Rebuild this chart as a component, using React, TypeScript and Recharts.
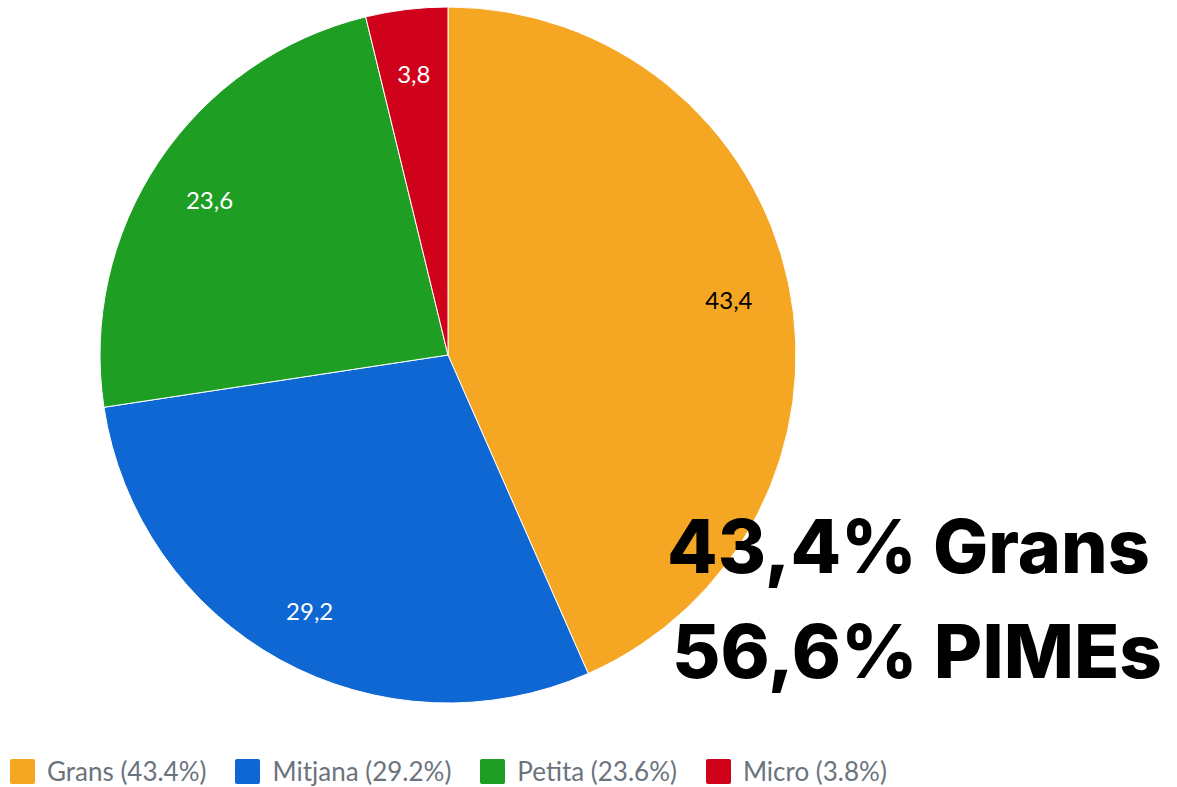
import * as React from 'react';
import { PieChart, Pie, Cell, Legend } from 'recharts';

const categories = ['Grans', 'Mitjana', 'Petita', 'Micro'];
const shares = [43.4, 29.2, 23.6, 3.8];
const colors = ['#F5A623', '#0E67D2', '#1E9E22', '#D0021B'];
const labelColors = ['#000000', '#ffffff', '#ffffff', '#ffffff'];
const headline = ['43,4% Grans', '56,6% PIMEs'];

const data = categories.map((name, i) => ({ name, value: shares[i] }));

const RADIAN = Math.PI / 180;

const renderLabel = (props: any) => {
	const { cx, cy, midAngle, outerRadius, index, value } = props;
	const r = outerRadius * 0.825;
	const x = cx + r * Math.cos(-midAngle * RADIAN);
	const y = cy + r * Math.sin(-midAngle * RADIAN) + 4;
	return (
		<text
			x={x}
			y={y}
			fill={labelColors[index]}
			textAnchor="middle"
			dominantBaseline="central"
			style={{ fontFamily: 'Lato', fontSize: 24 }}
		>
			{String(value).replace('.', ',')}
		</text>
	);
};

const renderLegend = () => (
	<div style={{ display: 'flex', alignItems: 'center', fontFamily: 'Lato' }}>
		{categories.map((name, i) => (
			<div
				key={name}
				style={{ display: 'flex', alignItems: 'center', marginRight: 29 }}
			>
				<span
					style={{
						width: 25,
						height: 25,
						borderRadius: 2,
						background: colors[i],
						marginRight: 12,
						display: 'inline-block'
					}}
				/>
				<span style={{ fontSize: 26, color: '#6b737d' }}>
					{`${name} (${shares[i]}%)`}
				</span>
			</div>
		))}
	</div>
);

export default function App() {
	return (
		<div
			style={{
				position: 'absolute',
				left: 0,
				top: 0,
				width: 1177,
				height: 787,
				background: '#fff',
				overflow: 'hidden'
			}}
		>
			<PieChart
				width={1177}
				height={787}
				margin={{ top: 0, right: 0, bottom: 0, left: 0 }}
			>
				<Pie
					data={data}
					dataKey="value"
					nameKey="name"
					cx={448}
					cy={355}
					outerRadius={348}
					startAngle={90}
					endAngle={-270}
					stroke="#ffffff"
					strokeWidth={1}
					label={renderLabel}
					labelLine={false}
					isAnimationActive={false}
				>
					{data.map((d, i) => (
						<Cell key={d.name} fill={colors[i]} />
					))}
				</Pie>
				<Legend
					content={renderLegend}
					wrapperStyle={{ left: 10, top: 755, width: 1160 }}
				/>
			</PieChart>
			<svg
				width={1177}
				height={787}
				style={{ position: 'absolute', left: 0, top: 0, pointerEvents: 'none' }}
			>
				<text
					x={667}
					y={573}
					textLength={483}
					lengthAdjust="spacingAndGlyphs"
					style={{ fontFamily: 'Inter', fontWeight: 800, fontSize: 74 }}
				>
					{headline[0]}
				</text>
				<text
					x={672}
					y={678}
					textLength={490}
					lengthAdjust="spacingAndGlyphs"
					style={{ fontFamily: 'Inter', fontWeight: 800, fontSize: 74 }}
				>
					{headline[1]}
				</text>
			</svg>
		</div>
	);
}
